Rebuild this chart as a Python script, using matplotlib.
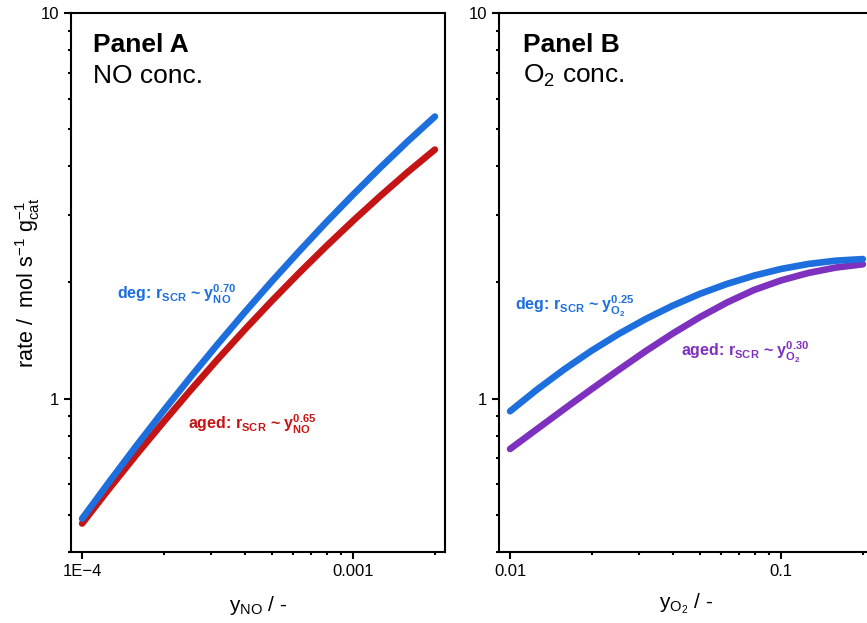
import numpy as np
import matplotlib
matplotlib.use("Agg")
import matplotlib.pyplot as plt
from matplotlib.ticker import LogLocator, NullFormatter

plt.rcParams["font.family"] = ["Liberation Sans", "DejaVu Sans"]
plt.rcParams["mathtext.fontset"] = "custom"
plt.rcParams["mathtext.rm"] = "Liberation Sans"
plt.rcParams["mathtext.it"] = "Liberation Sans:italic"
plt.rcParams["mathtext.bf"] = "Liberation Sans:bold"

# panel A: rate vs NO concentration
y_no = [1e-4, 1.259e-4, 1.585e-4, 1.995e-4, 2.512e-4, 3.162e-4, 3.981e-4,
        5.012e-4, 6.31e-4, 7.943e-4, 1e-3, 1.259e-3, 1.585e-3, 2e-3]
rate_no_deg = [0.488, 0.608, 0.754, 0.929, 1.137, 1.384, 1.675,
               2.015, 2.408, 2.864, 3.384, 3.974, 4.641, 5.388]
rate_no_aged = [0.474, 0.584, 0.715, 0.869, 1.051, 1.264, 1.510,
                1.793, 2.116, 2.482, 2.894, 3.354, 3.864, 4.424]

# panel B: rate vs O2 concentration
y_o2 = [0.01, 0.01259, 0.01585, 0.01995, 0.02512, 0.03162, 0.03981,
        0.05012, 0.0631, 0.07943, 0.1, 0.1259, 0.1585, 0.2]
rate_o2_deg = [0.927, 1.056, 1.191, 1.330, 1.470, 1.608, 1.742,
               1.869, 1.983, 2.084, 2.169, 2.234, 2.278, 2.300]
rate_o2_aged = [0.740, 0.834, 0.940, 1.057, 1.186, 1.327, 1.475,
                1.626, 1.775, 1.913, 2.026, 2.117, 2.186, 2.230]

BLUE = "#1c6fdc"
RED = "#c41414"
PURPLE = "#7e30be"


def style_axis(ax):
    ax.set_xscale("log")
    ax.set_yscale("log")
    ax.set_ylim(0.4, 10)
    for s in ax.spines.values():
        s.set_linewidth(1.5)
    ax.tick_params(which="both", direction="out", width=1.5, top=False, right=False,
                   labelsize=12)
    ax.tick_params(which="major", length=5)
    ax.tick_params(which="minor", length=2.5)
    ax.yaxis.set_minor_locator(LogLocator(base=10, subs=np.arange(2, 10)))
    ax.yaxis.set_minor_formatter(NullFormatter())
    ax.xaxis.set_minor_locator(LogLocator(base=10, subs=np.arange(2, 10)))
    ax.xaxis.set_minor_formatter(NullFormatter())
    ax.set_yticks([1, 10], ["1", "10"])


fig = plt.figure(figsize=(8.67, 6.23), dpi=100)
axA = fig.add_axes([0.0819, 0.114, 0.4314, 0.8651])
axB = fig.add_axes([0.5755, 0.114, 0.4314, 0.8651])

kw = dict(lw=4.8, solid_capstyle="round")

style_axis(axA)
axA.plot(y_no, rate_no_aged, color=RED, **kw)
axA.plot(y_no, rate_no_deg, color=BLUE, **kw)
axA.set_xlim(9.1e-5, 2.18e-3)
axA.set_xticks([1e-4, 1e-3], ["1E\u22124", "0.001"])
axA.set_xlabel(r"y$_\mathrm{NO}$ / -", fontsize=15, labelpad=11)
axA.set_ylabel(r"rate /  mol s$^{-1}$ g$_\mathrm{cat}^{-1}$", fontsize=15.5, labelpad=-1)
axA.text(0.059, 0.928, "Panel A", transform=axA.transAxes, fontsize=19,
         fontweight="bold", va="baseline")
axA.text(0.059, 0.870, "NO conc.", transform=axA.transAxes, fontsize=19, va="baseline")
axA.text(0.123, 0.469, r"deg: r$_\mathbf{SCR}$ ~ y$_\mathbf{NO}^\mathbf{0.70}$",
         transform=axA.transAxes, fontsize=11.5, fontweight="bold", color=BLUE,
         va="baseline")
axA.text(0.313, 0.228, r"aged: r$_\mathbf{SCR}$ ~ y$_\mathbf{NO}^\mathbf{0.65}$",
         transform=axA.transAxes, fontsize=11.5, fontweight="bold", color=RED,
         va="baseline")

style_axis(axB)
axB.plot(y_o2, rate_o2_aged, color=PURPLE, **kw)
axB.plot(y_o2, rate_o2_deg, color=BLUE, **kw)
axB.set_xlim(0.0091, 0.218)
axB.set_xticks([0.01, 0.1], ["0.01", "0.1"])
axB.set_xlabel(r"y$_{\mathrm{O_2}}$ / -", fontsize=15, labelpad=9)
axB.text(0.064, 0.928, "Panel B", transform=axB.transAxes, fontsize=19,
         fontweight="bold", va="baseline")
axB.text(0.064, 0.870, r"O$_2$ conc.", transform=axB.transAxes, fontsize=19,
         va="baseline")
axB.text(0.043, 0.447, r"deg: r$_\mathbf{SCR}$ ~ y$_{\mathbf{O_2}}^\mathbf{0.25}$",
         transform=axB.transAxes, fontsize=11.5, fontweight="bold", color=BLUE,
         va="baseline")
axB.text(0.488, 0.362, r"aged: r$_\mathbf{SCR}$ ~ y$_{\mathbf{O_2}}^\mathbf{0.30}$",
         transform=axB.transAxes, fontsize=11.5, fontweight="bold", color=PURPLE,
         va="baseline")

fig.savefig("out.png", dpi=100)
